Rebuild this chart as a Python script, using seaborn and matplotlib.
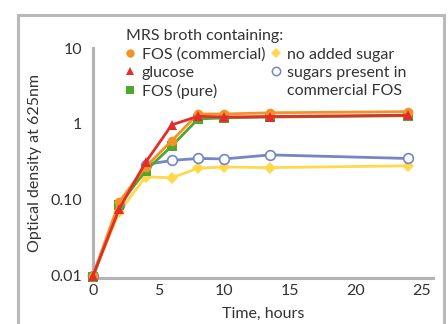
import numpy as np
import pandas as pd
import matplotlib
matplotlib.use("Agg")
import matplotlib.pyplot as plt
import seaborn as sns
from matplotlib.patches import Rectangle
from matplotlib.ticker import FixedLocator, FixedFormatter, NullLocator

# datos
horas = [0, 2, 4, 6, 8, 10, 13.5, 24]
fos_comercial = [0.01, 0.094, 0.27, 0.60, 1.35, 1.35, 1.40, 1.45]
glucosa = [0.01, 0.076, 0.31, 0.97, 1.26, 1.23, 1.25, 1.30]
fos_puro = [0.0095, 0.085, 0.24, 0.51, 1.16, 1.20, 1.23, 1.28]
sin_azucar = [0.01, 0.069, 0.20, 0.195, 0.26, 0.27, 0.265, 0.28]
azucares_fos = [0.01, 0.085, 0.29, 0.33, 0.35, 0.345, 0.39, 0.35]

etiquetas = ["FOS (commercial)", "glucose", "FOS (pure)", "no added sugar",
             "sugars present in commercial FOS"]
colores = ["#F39325", "#E42D2A", "#4DA82F", "#FFD94C", "#7585C6"]
marcadores = ["o", "^", "s", "D", "o"]

sns.set_style("white")
plt.rcParams['font.family'] = ['Lato', 'DejaVu Sans']
texto = "#333333"

fig = plt.figure(figsize=(4.48, 3.24), dpi=100)
fig.patches.append(Rectangle((18 / 448, -0.1), 426 / 448, 1.054, transform=fig.transFigure,
                             fill=False, edgecolor="#b9b9b9", linewidth=2.2))
ax = fig.add_axes([93 / 448, 1 - 278 / 324, 340 / 448, 230 / 324])

series = {
    etiquetas[0]: fos_comercial,
    etiquetas[1]: glucosa,
    etiquetas[2]: fos_puro,
    etiquetas[3]: sin_azucar,
    etiquetas[4]: azucares_fos,
}

orden_dibujo = [3, 4, 2, 0, 1]  # rojo encima
for i in orden_dibujo:
    nombre = etiquetas[i]
    df = pd.DataFrame({"t": horas, "od": series[nombre]})
    abierto = (i == 4)
    tam = 6 if marcadores[i] == "D" else 7
    if marcadores[i] == "^":
        tam = 6.5
    sns.lineplot(data=df, x="t", y="od", ax=ax, color=colores[i], linewidth=2,
                 marker=marcadores[i], markersize=tam,
                 markerfacecolor="white" if abierto else colores[i],
                 markeredgecolor=colores[i], markeredgewidth=1.2 if abierto else 0,
                 legend=False, clip_on=False)

ax.set_yscale("log")
ax.set_xlim(0, 25.9)
ax.set_ylim(0.0093, 10)
ax.set_xticks([0, 5, 10, 15, 20, 25])
ax.yaxis.set_major_locator(FixedLocator([0.01, 0.1, 1, 10]))
ax.yaxis.set_major_formatter(FixedFormatter(["0.01", "0.10", "1", "10"]))
ax.yaxis.set_minor_locator(NullLocator())
ax.tick_params(axis="both", direction="in", length=4, width=1.2, color="#b0b0b0",
               labelsize=11.5, labelcolor=texto, pad=4)
ax.tick_params(axis="y", pad=8)

for lado in ["top", "right"]:
    ax.spines[lado].set_visible(False)
for lado in ["left", "bottom"]:
    ax.spines[lado].set_color("#b3b3b3")
    ax.spines[lado].set_linewidth(2.2)
    ax.spines[lado].set_zorder(0.5)

ax.set_xlabel("Time, hours", fontsize=11.5, color=texto, labelpad=7)
ax.set_ylabel("Optical density at 625nm", fontsize=11.5, color=texto, labelpad=6)

# leyenda: la ultima etiqueta va en dos renglones, con el marcador en el primero
leg_handles, leg_textos = [], []
for i, nombre in enumerate(etiquetas):
    h = plt.Line2D([], [], linestyle="none", marker=marcadores[i],
                   markersize=6 if marcadores[i] != "D" else 5.5,
                   markerfacecolor="white" if i == 4 else colores[i],
                   markeredgecolor=colores[i], markeredgewidth=1.1 if i == 4 else 0)
    leg_handles.append(h)
    leg_textos.append(nombre)
leg_textos[4] = "sugars present in"
leg_handles.append(plt.Line2D([], [], linestyle="none"))
leg_textos.append("commercial FOS")

leg = ax.legend(leg_handles, leg_textos, ncol=2, title="MRS broth containing:",
                loc="upper left", bbox_to_anchor=(0.063, 1.13), frameon=False,
                fontsize=11.5, title_fontsize=11.5, handlelength=0.6, handletextpad=0.4,
                columnspacing=0.4, labelspacing=0.25, borderpad=0.2)
leg._legend_box.align = "left"
for t in leg.get_texts():
    t.set_color(texto)
leg.get_title().set_color(texto)

fig.savefig("out.png", dpi=100)
